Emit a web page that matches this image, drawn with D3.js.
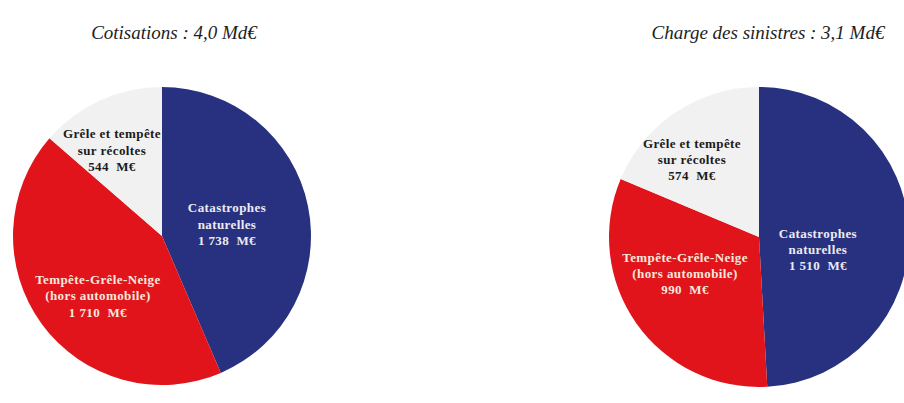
<!DOCTYPE html>
<html>
<head>
<meta charset="utf-8">
<script src="https://cdn.jsdelivr.net/npm/d3@7"></script>
<style>
  html, body { margin: 0; padding: 0; background: #ffffff; }
  svg { display: block; }
  text { font-family: "Liberation Serif", "DejaVu Serif", serif; white-space: pre; }
</style>
</head>
<body>
<svg id="chart" width="904" height="403"></svg>
<script>
// Insurance lines (order of the slices, clockwise from 12 o'clock)
const categories = [
  "Catastrophes naturelles",
  "Tempête-Grêle-Neige (hors automobile)",
  "Grêle et tempête sur récoltes"
];
// Label lines drawn above each value
const labelLines = [
  ["Catastrophes", "naturelles"],
  ["Tempête-Grêle-Neige", "(hors automobile)"],
  ["Grêle et tempête", "sur récoltes"]
];
// Values in M€
const cotisations = [1738, 1710, 544];
const sinistres = [1510, 990, 574];
const titles = ["Cotisations : 4,0 Md€", "Charge des sinistres : 3,1 Md€"];

const colors = ["#28317f", "#e1141c", "#f1f1f1"];
const textColors = ["#ecebf2", "#f6e9dc", "#1a1a1a"];

// Layout of the two pies: centre, radius, title anchor, label anchors (in radius units)
const layout = [
  { cx: 162, cy: 236, r: 149, titleX: 174, titleY: 39, lineGap: 16.5,
    labels: [[0.436, -0.08], [-0.43, 0.40], [-0.336, -0.575]] },
  { cx: 759, cy: 237, r: 150, titleX: 768, titleY: 39, lineGap: 16,
    labels: [[0.393, 0.08], [-0.493, 0.24], [-0.447, -0.52]] }
];

const fr = d3.formatLocale({ decimal: ",", thousands: "\u00a0", grouping: [3], currency: ["", " €"] });
const fmt = fr.format(",d");

const svg = d3.select("#chart");
const pie = d3.pie().sort(null).value(d => d);

[cotisations, sinistres].forEach((values, i) => {
  const L = layout[i];
  const g = svg.append("g").attr("transform", `translate(${L.cx},${L.cy})`);
  const arc = d3.arc().innerRadius(0).outerRadius(L.r);
  const arcs = pie(values);

  g.selectAll("path.slice")
    .data(arcs)
    .join("path")
    .attr("class", "slice")
    .attr("d", arc)
    .attr("fill", (d, k) => colors[k]);

  const lab = g.selectAll("text.lab")
    .data(arcs)
    .join("text")
    .attr("class", "lab")
    .attr("text-anchor", "middle")
    .attr("font-size", 13)
    .attr("font-weight", "bold")
    .attr("letter-spacing", 0.4)
    .attr("fill", (d, k) => textColors[k])
    .attr("transform", (d, k) => `translate(${L.labels[k][0] * L.r},${L.labels[k][1] * L.r})`);

  lab.each(function (d, k) {
    const lines = labelLines[k].concat([fmt(d.data) + "  M€"]);
    const t = d3.select(this);
    lines.forEach((s, j) => {
      t.append("tspan")
        .attr("x", 0)
        .attr("y", (j - (lines.length - 1) / 2) * L.lineGap)
        .attr("dy", "0.35em")
        .text(s);
    });
  });

  svg.append("text")
    .attr("x", L.titleX)
    .attr("y", L.titleY)
    .attr("text-anchor", "middle")
    .attr("font-size", 19)
    .attr("font-style", "italic")
    .attr("fill", "#1e1e1e")
    .text(titles[i]);
});
</script>
</body>
</html>
